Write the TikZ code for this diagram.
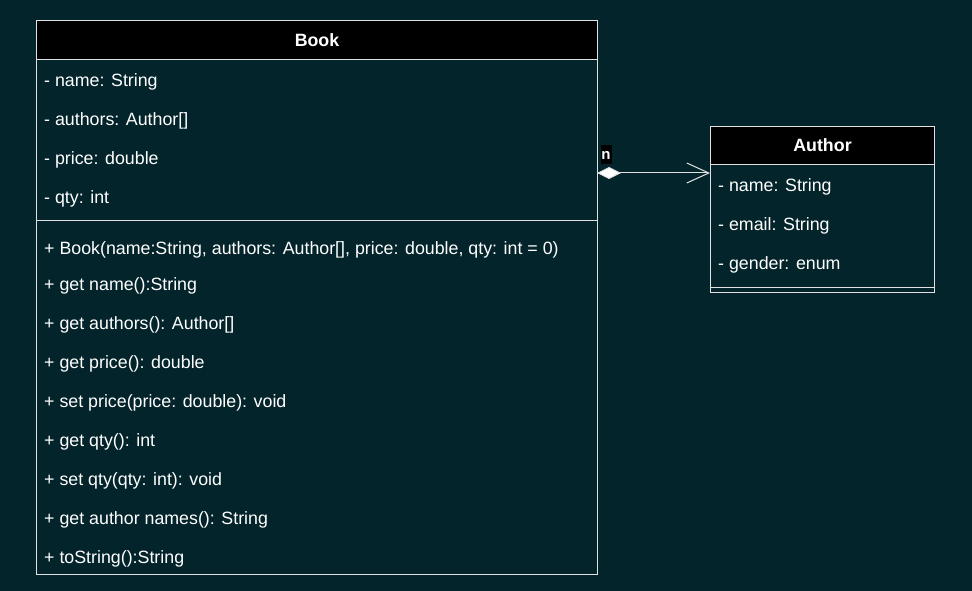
\documentclass[tikz,border=0pt]{standalone}
\usepackage{fontspec}
\setmainfont{Liberation Sans}
\usetikzlibrary{arrows.meta}
\definecolor{bg}{RGB}{3,36,42}
\definecolor{ln}{RGB}{225,225,225}
\begin{document}
\begin{tikzpicture}[x=1pt,y=-1pt,
  box/.style={draw=ln, line width=1pt, anchor=north west, inner sep=0pt},
  head/.style={box, fill=black, text=white, font=\fontsize{17.8}{20}\selectfont\bfseries},
  item/.style={anchor=west, inner sep=0pt, text=white, font=\fontsize{17.8}{20}\selectfont},
  sep/.style={draw=ln, line width=1pt}]
\fill[bg] (0,0) rectangle (972,591);
\useasboundingbox (0,0) rectangle (972,591);
% Book
\node[box, minimum width=561pt, minimum height=554pt] (book) at (36,20) {};
\node[head, minimum width=561pt, minimum height=39pt] (bookhead) at (36,20) {Book};
\node[item] (b1) at (44,81.5) {- name: String};
\node[item] (b2) at (44,120.5) {- authors: Author[]};
\node[item] (b3) at (44,159.5) {- price: double};
\node[item] (b4) at (44,198.5) {- qty: int};
\coordinate (bsepL) at (36,220);
\draw[sep] (bsepL) -- (bsepL -| book.east);
\node[item] (m1) at (44,249.5) {+ Book(name:String, authors: Author[], price: double, qty: int = 0)};
\node[item] (m2) at (44,285.5) {+ get name():String};
\node[item] (m3) at (44,324.5) {+ get authors(): Author[]};
\node[item] (m4) at (44,363.5) {+ get price(): double};
\node[item] (m5) at (44,402.5) {+ set price(price: double): void};
\node[item] (m6) at (44,441.5) {+ get qty(): int};
\node[item] (m7) at (44,480.5) {+ set qty(qty: int): void};
\node[item] (m8) at (44,519.5) {+ get author names(): String};
\node[item] (m9) at (44,558.5) {+ toString():String};
% Author
\node[box, minimum width=224pt, minimum height=166pt] (author) at (710,126) {};
\node[head, minimum width=224pt, minimum height=38pt] (authorhead) at (710,126) {Author};
\node[item] (a1) at (718,186.5) {- name: String};
\node[item] (a2) at (718,225.5) {- email: String};
\node[item] (a3) at (718,264.5) {- gender: enum};
\coordinate (asepL) at (710,287);
\draw[sep] (asepL) -- (asepL -| author.east);
% connector
\coordinate (src) at (597,173);
\draw[draw=ln, line width=1pt, {Diamond[length=24pt,width=12pt,fill=white]}-{Straight Barb[length=22pt,width=20pt]}]
  (src) -- (src -| author.west);
\node[fill=black, text=white, inner sep=0pt, minimum width=11pt, minimum height=19pt, font=\fontsize{15}{16}\selectfont\bfseries] (lbl) at (606,155) {n};
\end{tikzpicture}
\end{document}
